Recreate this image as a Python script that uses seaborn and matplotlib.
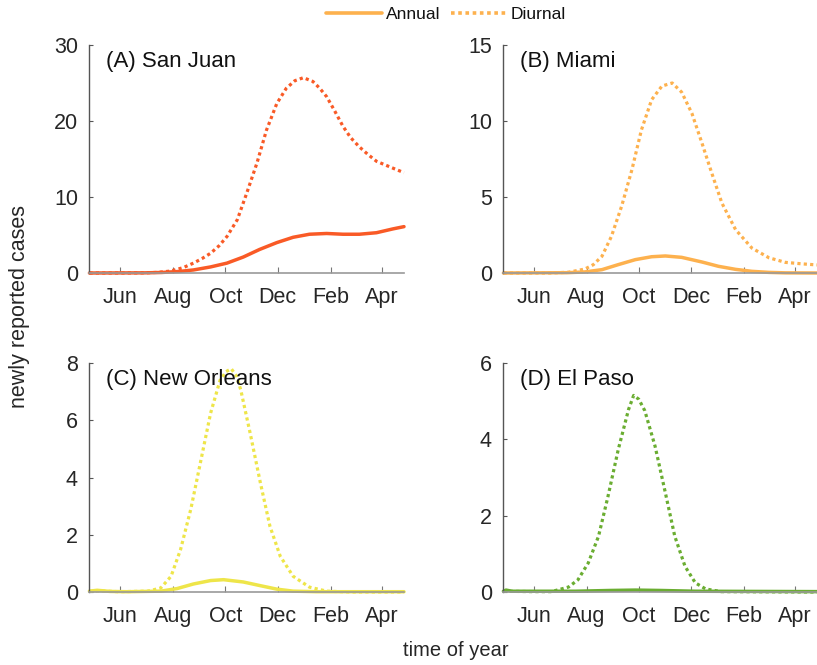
import numpy as np
import pandas as pd
import matplotlib
matplotlib.use("Agg")
import matplotlib.pyplot as plt
from matplotlib.lines import Line2D
import seaborn as sns

# ---------------- data (day of year, continuing into next year) ----------------
month_ticks = [152, 213, 274, 335, 397, 456]
month_labels = ["Jun", "Aug", "Oct", "Dec", "Feb", "Apr"]

sj_diurnal_day = [116, 150, 180, 195, 210, 225, 237, 247, 257, 267, 276, 288, 299, 311, 322, 334, 345, 355, 365, 376, 384, 392, 401, 411, 420, 430, 440, 450, 469, 482]
sj_diurnal_val = [0, 0, 0.02, 0.08, 0.25, 0.7, 1.3, 1.9, 2.6, 3.6, 4.8, 7.0, 10.5, 14.5, 18.8, 22.3, 24.3, 25.3, 25.7, 25.2, 24.3, 23.2, 21.4, 19.3, 17.8, 16.6, 15.6, 14.7, 13.8, 13.2]
sj_annual_day = [116, 180, 200, 220, 237, 257, 276, 295, 314, 334, 353, 372, 392, 411, 430, 450, 469, 482]
sj_annual_val = [0, 0.02, 0.07, 0.2, 0.4, 0.8, 1.3, 2.1, 3.1, 4.0, 4.7, 5.1, 5.2, 5.1, 5.1, 5.3, 5.8, 6.1]

mi_diurnal_day = [116, 170, 192, 211, 221, 231, 242, 254, 266, 277, 289, 301, 313, 324, 336, 348, 359, 371, 387, 406, 426, 445, 465, 482]
mi_diurnal_val = [0, 0, 0.05, 0.26, 0.55, 1.1, 2.4, 4.4, 6.8, 9.4, 11.4, 12.3, 12.5, 11.9, 10.5, 8.5, 6.6, 4.6, 2.85, 1.64, 1.0, 0.7, 0.6, 0.53]
mi_annual_day = [116, 190, 211, 231, 250, 270, 289, 305, 324, 348, 367, 387, 406, 426, 445, 482]
mi_annual_val = [0, 0.02, 0.07, 0.22, 0.55, 0.88, 1.07, 1.12, 1.03, 0.72, 0.44, 0.24, 0.11, 0.04, 0.01, 0]

no_diurnal_day = [116, 130, 150, 184, 199, 211, 222, 234, 245, 257, 268, 275, 281, 287, 292, 303, 315, 326, 338, 353, 372, 392, 420, 482]
no_diurnal_val = [0.02, 0.04, 0.01, 0.03, 0.14, 0.55, 1.48, 2.9, 4.5, 6.25, 7.4, 7.7, 7.8, 7.55, 7.07, 5.55, 3.8, 2.3, 1.25, 0.55, 0.17, 0.03, 0, 0]
no_annual_day = [116, 125, 140, 160, 199, 218, 237, 257, 272, 295, 315, 334, 353, 380, 482]
no_annual_val = [0.03, 0.06, 0.02, 0.01, 0.03, 0.12, 0.28, 0.4, 0.43, 0.35, 0.22, 0.1, 0.03, 0.01, 0.01]

ep_diurnal_day = [116, 150, 172, 192, 203, 215, 227, 238, 250, 262, 268, 274, 281, 293, 305, 316, 328, 340, 352, 370, 482]
ep_diurnal_val = [0.02, 0.01, 0.01, 0.13, 0.32, 0.76, 1.46, 2.5, 3.73, 4.78, 5.15, 5.05, 4.75, 3.82, 2.6, 1.46, 0.67, 0.24, 0.08, 0.01, 0]
ep_annual_day = [116, 119, 126, 200, 240, 270, 300, 340, 482]
ep_annual_val = [0.02, 0.05, 0.02, 0.02, 0.04, 0.05, 0.04, 0.02, 0.01]

titles = ["(A) San Juan", "(B) Miami", "(C) New Orleans", "(D) El Paso"]
colors = ["#F95A26", "#FDB14E", "#EEE549", "#6AAD31"]
ylims = [30, 15, 8, 6]
yticks = [[0, 10, 20, 30], [0, 5, 10, 15], [0, 2, 4, 6, 8], [0, 2, 4, 6]]

series = [
    (sj_annual_day, sj_annual_val, sj_diurnal_day, sj_diurnal_val),
    (mi_annual_day, mi_annual_val, mi_diurnal_day, mi_diurnal_val),
    (no_annual_day, no_annual_val, no_diurnal_day, no_diurnal_val),
    (ep_annual_day, ep_annual_val, ep_diurnal_day, ep_diurnal_val),
]

# ---------------- styling ----------------
sns.set_style("white")
plt.rcParams["font.family"] = ["Liberation Sans", "DejaVu Sans"]
text_color = "#262626"

fig = plt.figure(figsize=(8.17, 6.65), dpi=100)
W, H = 817, 665
boxes = [
    (89, 45, 404, 273),
    (503, 45, 817, 273),
    (89, 363, 404, 592),
    (503, 363, 817, 592),
]

lw = 2.3
dot = (0, (1.0, 1.0))
for i, (l, t, r, b) in enumerate(boxes):
    ax = fig.add_axes([l / W, 1 - b / H, (r - l) / W, (b - t) / H])
    ad, av, dd, dv = series[i]
    sns.lineplot(x=dd, y=dv, ax=ax, color=colors[i], linewidth=lw,
                 linestyle=dot, dash_capstyle="butt", sort=False, clip_on=False)
    sns.lineplot(x=ad, y=av, ax=ax, color=colors[i], linewidth=lw + 0.2, sort=False, clip_on=False)
    ax.set_xlim(115.5, 482)
    ax.set_ylim(0, ylims[i])
    ax.set_xticks(month_ticks)
    ax.set_xticklabels(month_labels)
    ax.set_yticks(yticks[i])
    ax.set_xlabel("")
    ax.set_ylabel("")
    for s in ["top", "right"]:
        ax.spines[s].set_visible(False)
    ax.spines["left"].set_color("#555555")
    ax.spines["left"].set_linewidth(1.0)
    ax.spines["bottom"].set_color("#999999")
    ax.spines["bottom"].set_linewidth(1.2)
    ax.tick_params(axis="x", direction="in", length=4, width=0.8, color="#777777",
                   labelsize=15.5, labelcolor=text_color, pad=10, bottom=True)
    ax.tick_params(axis="y", direction="in", length=3, width=0.8, color="#555555",
                   labelsize=15.5, labelcolor=text_color, pad=8, left=True)
    ax.text(0.053, 0.975, titles[i], transform=ax.transAxes, ha="left", va="top",
            fontsize=16, color="#111111")
    ax.patch.set_alpha(0)

fig.text(20 / W, 1 - 306 / H, "newly reported cases", rotation=90, ha="center",
         va="center", fontsize=15.5, color=text_color)
fig.text(456 / W, 1 - 650 / H, "time of year", ha="center", va="center",
         fontsize=14.5, color=text_color)

handles = [
    Line2D([], [], color=colors[1], linewidth=2.6),
    Line2D([], [], color=colors[1], linewidth=2.6, linestyle=(0, (1.0, 1.0)), dash_capstyle="butt"),
]
fig.legend(handles, ["Annual", "Diurnal"], loc="center", bbox_to_anchor=(446 / W, 1 - 14 / H),
           ncol=2, frameon=False, fontsize=12.5, handlelength=3.2, handletextpad=0.25,
           columnspacing=0.6, labelcolor="#111111")

fig.savefig("out.png", dpi=100)
